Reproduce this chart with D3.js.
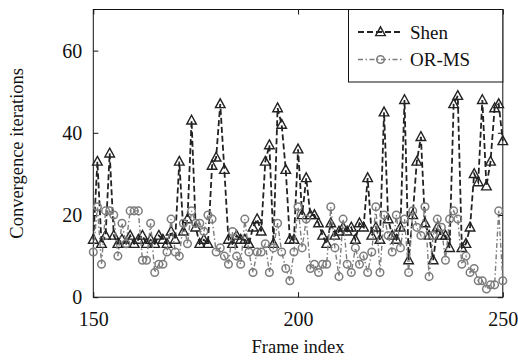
<!DOCTYPE html>
<html><head><meta charset="utf-8">
<script src="https://cdn.jsdelivr.net/npm/d3@7"></script>
<style>
body{margin:0;background:#fff}
svg{display:block}
text{font-family:"Liberation Serif","Times New Roman",serif;fill:#111}
</style>
</head><body>
<svg id="chart" width="518" height="363"></svg>
<script>
// ---- data ----
const frames = d3.range(150, 251);
const shen = [
  14,33,13,15,35,15,13,14,13,15,
  13,14,15,13,14,13,15,14,13,16,
  14,33,16,19,43,17,13,14,13,32,
  34,47,31,14,13,15,14,14,13,17,
  19,16,33,37,13,46,42,31,14,14,
  36,20,29,20,20,18,15,13,18,15,
  16,17,16,17,14,18,17,29,15,17,
  14,45,19,15,14,17,48,9,20,33,
  39,18,15,9,17,15,15,12,47,49,
  12,13,17,30,28,48,27,33,46,47,
  38
];
const orms = [
  11,22,8,21,21,20,10,18,13,21,
  21,21,9,9,18,6,8,8,11,19,
  11,10,18,13,21,18,18,16,20,19,
  11,12,10,8,16,10,8,19,11,6,
  11,11,13,6,12,18,11,7,4,11,
  22,12,19,7,8,6,8,8,22,12,
  5,19,8,6,12,8,10,6,11,22,
  6,20,15,11,20,12,19,6,21,17,
  15,22,5,15,19,17,9,19,21,19,
  8,10,6,7,4,4,2,3,3,21,
  4
];
const seriesNames = ["Shen", "OR-MS"];
const xTicks = [150, 200, 250];
const yTicks = [0, 20, 40, 60];
const xDomain = [150, 250];
const yDomain = [0, 70];
const xTitle = "Frame index";
const yTitle = "Convergence iterations";

// ---- layout ----
const svg = d3.select("#chart");
const L = 93.3, R = 502.8, T = 9.5, B = 297.2;
const x = d3.scaleLinear().domain(xDomain).range([L, R]);
const y = d3.scaleLinear().domain(yDomain).range([B, T]);

const styles = [
  {color:"#222", width:1.8, dash:"6,3", marker:"tri"},
  {color:"#7d7d7d", width:1.4, dash:"5,2.5,1.5,2.5", marker:"circ"}
];
const data = [shen, orms];

// axes
const gx = svg.append("g").attr("transform", `translate(0,${B})`)
  .call(d3.axisBottom(x).tickValues(xTicks).tickSize(-5).tickPadding(15).tickFormat(d3.format("d")));
const gy = svg.append("g").attr("transform", `translate(${L},0)`)
  .call(d3.axisLeft(y).tickValues(yTicks).tickSize(-5).tickPadding(11).tickFormat(d3.format("d")));
const gx2 = svg.append("g").attr("transform", `translate(0,${T})`)
  .call(d3.axisTop(x).tickValues(xTicks).tickSize(-5).tickFormat(""));
const gy2 = svg.append("g").attr("transform", `translate(${R},0)`)
  .call(d3.axisRight(y).tickValues(yTicks).tickSize(-5).tickFormat(""));
[gx, gy, gx2, gy2].forEach(g => {
  g.select(".domain").remove();
  g.selectAll(".tick line").attr("stroke", "#111").attr("stroke-width", 1);
  g.selectAll(".tick text").style("font-family", '"Liberation Serif",serif').style("font-size", "20px").attr("fill", "#111");
});

svg.append("rect").attr("x", L).attr("y", T).attr("width", R - L).attr("height", B - T)
  .attr("fill", "none").attr("stroke", "#111").attr("stroke-width", 1);

// titles
svg.append("text").attr("x", (L + R) / 2).attr("y", 353).attr("text-anchor", "middle")
  .style("font-size", "18.5px").text(xTitle);
svg.append("text").attr("transform", `translate(23,${(T + B) / 2}) rotate(-90)`).attr("text-anchor", "middle")
  .style("font-size", "18.5px").text(yTitle);

const triPath = "M0,-5.2L4.8,3.6L-4.8,3.6Z";
function drawMarker(g, kind, cx, cy, st) {
  if (kind === "tri") {
    g.append("path").attr("d", triPath).attr("transform", `translate(${cx},${cy})`)
      .attr("fill", "none").attr("stroke", st.color).attr("stroke-width", 1.4);
  } else {
    g.append("circle").attr("cx", cx).attr("cy", cy).attr("r", 3.8)
      .attr("fill", "none").attr("stroke", st.color).attr("stroke-width", 1.5);
  }
}

// series
const line = d3.line().x((d, i) => x(frames[i])).y(d => y(d));
data.forEach((vals, si) => {
  const st = styles[si];
  const g = svg.append("g");
  g.append("path").datum(vals).attr("d", line).attr("fill", "none")
    .attr("stroke", st.color).attr("stroke-width", st.width).attr("stroke-dasharray", st.dash);
  vals.forEach((v, i) => drawMarker(g, st.marker, x(frames[i]), y(v), st));
});

// legend
const lg = svg.append("g");
lg.append("rect").attr("x", 348.5).attr("y", T).attr("width", R - 348.5).attr("height", 72.5)
  .attr("fill", "#fff").attr("stroke", "#111").attr("stroke-width", 1);
const legY = [32, 59.5];
seriesNames.forEach((name, si) => {
  const st = styles[si];
  lg.append("line").attr("x1", 358).attr("x2", 403).attr("y1", legY[si]).attr("y2", legY[si])
    .attr("stroke", st.color).attr("stroke-width", st.width).attr("stroke-dasharray", st.dash);
  drawMarker(lg, st.marker, 380.5, legY[si], st);
  lg.append("text").attr("x", 410).attr("y", legY[si] + 6.5).style("font-size", "19px").text(name);
});
</script>
</body></html>
